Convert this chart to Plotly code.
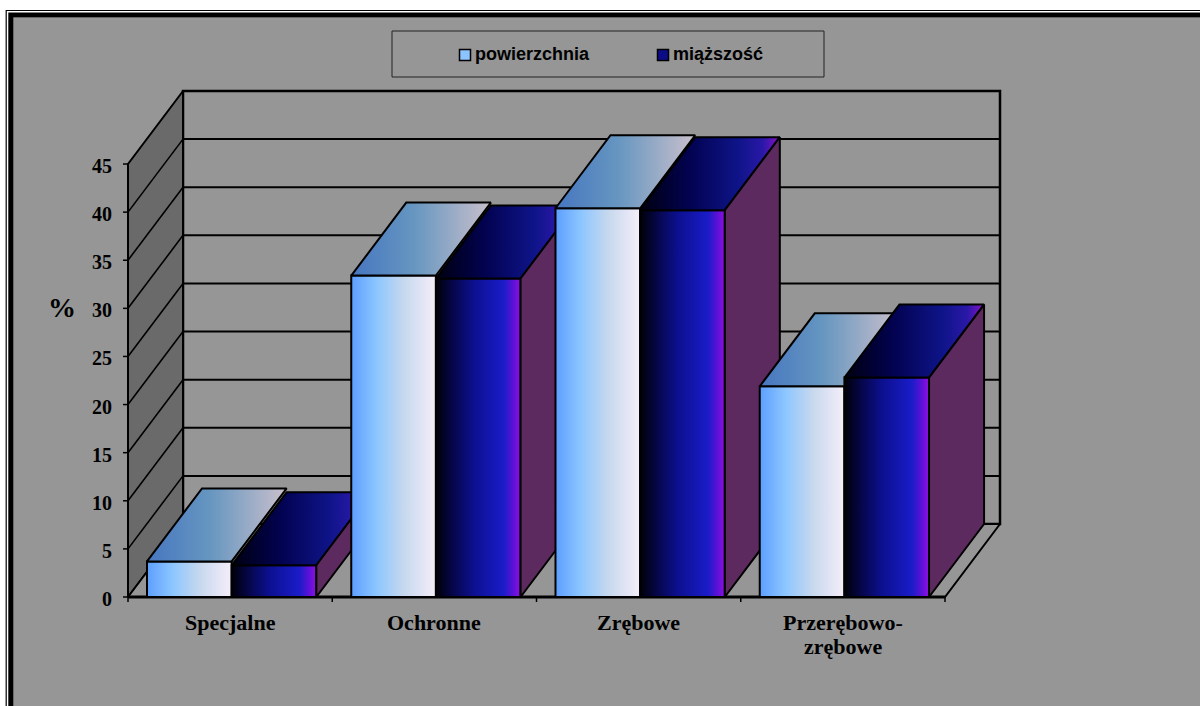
import plotly.graph_objects as go

# ---- data ----
categories = ["Specjalne", "Ochronne", "Zrębowe", "Przerębowo-<br>zrębowe"]
series_names = ["powierzchnia", "miąższość"]
powierzchnia = [3.7, 33.4, 40.4, 21.9]
miazszosc = [3.3, 33.1, 40.2, 22.8]
y_ticks = [0, 5, 10, 15, 20, 25, 30, 35, 40, 45]
y_title = "%"

# ---- geometry (axis units: categories horizontally, percent vertically) ----
W, H = 1200, 706
X_RANGE = [-0.6267, 5.2485]
Y_RANGE = [-11.328, 62.045]
DX, DY = 0.2693, 7.587          # oblique depth of the 3-D box
Y_MAX = y_ticks[-1]
N = len(categories)
BAR_OFFSET = 0.093
BAR_W = 0.4145

PX_X = W / (X_RANGE[1] - X_RANGE[0])   # pixels per category unit
PX_Y = H / (Y_RANGE[1] - Y_RANGE[0])   # pixels per percent unit

BG = "#969696"
WALL_SIDE = "#6a6a6a"
SIDE = "#5c2a5e"
P_FRONT = [[0, "#5c9eff"], [0.3, "#8cc6ff"], [0.62, "#c6d8ee"], [1, "#f6eefa"]]
P_TOP = [[0, "#4676c0"], [0.45, "#6696c0"], [1, "#cac0cc"]]
M_FRONT = [[0, "#000008"], [0.2, "#06064a"], [0.45, "#0c1090"], [0.8, "#1a1cc8"],
           [0.92, "#6010d8"], [1, "#9010e0"]]
M_TOP = [[0, "#000010"], [0.35, "#020250"], [0.7, "#0e1488"], [0.88, "#2a18a8"],
         [1, "#8a10c8"]]

fig = go.Figure()


def poly(xs, ys, fill=None, grad=None, lw=2):
    xs = list(xs) + [xs[0]]
    ys = list(ys) + [ys[0]]
    kw = dict(x=xs, y=ys, mode="lines", fill="toself",
              line=dict(color="black", width=lw),
              hoverinfo="skip", showlegend=False)
    if grad is not None:
        kw["fillgradient"] = dict(type="horizontal", colorscale=grad)
    else:
        kw["fillcolor"] = fill
    fig.add_trace(go.Scatter(**kw))


def seg(x0, y0, x1, y1, lw=2):
    fig.add_trace(go.Scatter(x=[x0, x1], y=[y0, y1], mode="lines",
                             line=dict(color="black", width=lw),
                             hoverinfo="skip", showlegend=False))


# back wall with gridlines
poly([DX, N + DX, N + DX, DX], [DY, DY, Y_MAX + DY, Y_MAX + DY], fill=BG, lw=2.5)
for v in y_ticks[1:-1]:
    seg(DX, v + DY, N + DX, v + DY)

# left wall with its diagonal gridlines
poly([0, 0, DX, DX], [0, Y_MAX, Y_MAX + DY, DY], fill=WALL_SIDE, lw=2)
for v in y_ticks[1:-1]:
    seg(0, v, DX, v + DY, lw=1.6)

# floor
poly([0, N, N + DX, DX], [0, 0, DY, DY], fill=BG, lw=2)
seg(0, 0, N, 0, lw=3)

# value-axis tick marks
for v in y_ticks:
    seg(-5 / PX_X, v, 0, v, lw=1.5)
# category tick marks
for i in range(N + 1):
    seg(i, 0, i, -5 / PX_Y, lw=1.5)

# bars, drawn left to right so nearer faces cover farther ones
for i in range(N):
    for s, vals in enumerate([powierzchnia, miazszosc]):
        v = vals[i]
        xl = i + BAR_OFFSET + s * BAR_W
        xr = xl + BAR_W
        front_grad = P_FRONT if s == 0 else M_FRONT
        top_grad = P_TOP if s == 0 else M_TOP
        poly([xl, xr, xr, xl], [0, 0, v, v], grad=front_grad)
        poly([xl, xr, xr + DX, xl + DX], [v, v, v + DY, v + DY], grad=top_grad)
        if s == 1:
            poly([xr, xr + DX, xr + DX, xr], [0, DY, v + DY, v], fill=SIDE)


def px(x):
    return x / W


def py(y):
    return 1 - y / H


shapes = [
    # chart area background and double frame
    dict(type="rect", xref="paper", yref="paper", layer="below",
         x0=px(13), y0=py(17.5), x1=px(1260), y1=py(760),
         fillcolor=BG, line=dict(width=0)),
    dict(type="rect", xref="paper", yref="paper", layer="below",
         x0=px(10.8), y0=py(15), x1=px(1260), y1=py(760),
         fillcolor="rgba(0,0,0,0)", line=dict(color="black", width=5)),
    dict(type="rect", xref="paper", yref="paper", layer="below",
         x0=px(6.2), y0=py(10.5), x1=px(1260), y1=py(760),
         fillcolor="rgba(0,0,0,0)", line=dict(color="black", width=1.2)),
    # legend box
    dict(type="rect", xref="paper", yref="paper",
         x0=px(392), y0=py(31), x1=px(824), y1=py(77),
         fillcolor="rgba(0,0,0,0)", line=dict(color="#222222", width=1)),
    dict(type="rect", xref="paper", yref="paper",
         x0=px(459.5), y0=py(49.5), x1=px(470.5), y1=py(60.5),
         fillcolor="#8cc4ff", line=dict(color="black", width=1.5)),
    dict(type="rect", xref="paper", yref="paper",
         x0=px(657.5), y0=py(49.5), x1=px(668.5), y1=py(60.5),
         fillcolor="#0c0c88", line=dict(color="black", width=1.5)),
]

SERIF = "Liberation Serif"
annotations = []
for v in y_ticks:
    annotations.append(dict(x=px(114), xref="paper", y=v, yref="y",
                            text=str(v), showarrow=False, xanchor="right",
                            yanchor="middle", yshift=-2,
                            font=dict(family=SERIF, size=20, color="black", weight="bold")))
for i, c in enumerate(categories):
    for k, line in enumerate(c.split("<br>")):
        annotations.append(dict(x=i + 0.5, xref="x", y=py(622 + 24 * k), yref="paper",
                                text=line, showarrow=False, xanchor="center",
                                yanchor="middle",
                                font=dict(family=SERIF, size=22, color="black", weight="bold")))
annotations.append(dict(x=px(62), xref="paper", y=py(307), yref="paper",
                        text=y_title, showarrow=False, xanchor="center", yanchor="middle",
                        font=dict(family=SERIF, size=28, color="black", weight="bold")))
for name, xl in zip(series_names, [473, 671]):
    annotations.append(dict(x=px(xl), xref="paper", y=py(54), yref="paper",
                            text=name, showarrow=False, xanchor="left", yanchor="middle",
                            font=dict(family="Liberation Sans", size=18, color="black",
                                      weight="bold")))

fig.update_layout(
    width=W, height=H, autosize=False,
    margin=dict(l=0, r=0, t=0, b=0, pad=0),
    paper_bgcolor="white", plot_bgcolor="rgba(0,0,0,0)",
    xaxis=dict(range=X_RANGE, visible=False, fixedrange=True),
    yaxis=dict(range=Y_RANGE, visible=False, fixedrange=True),
    shapes=shapes, annotations=annotations, showlegend=False,
)

fig.write_html("out.html")
